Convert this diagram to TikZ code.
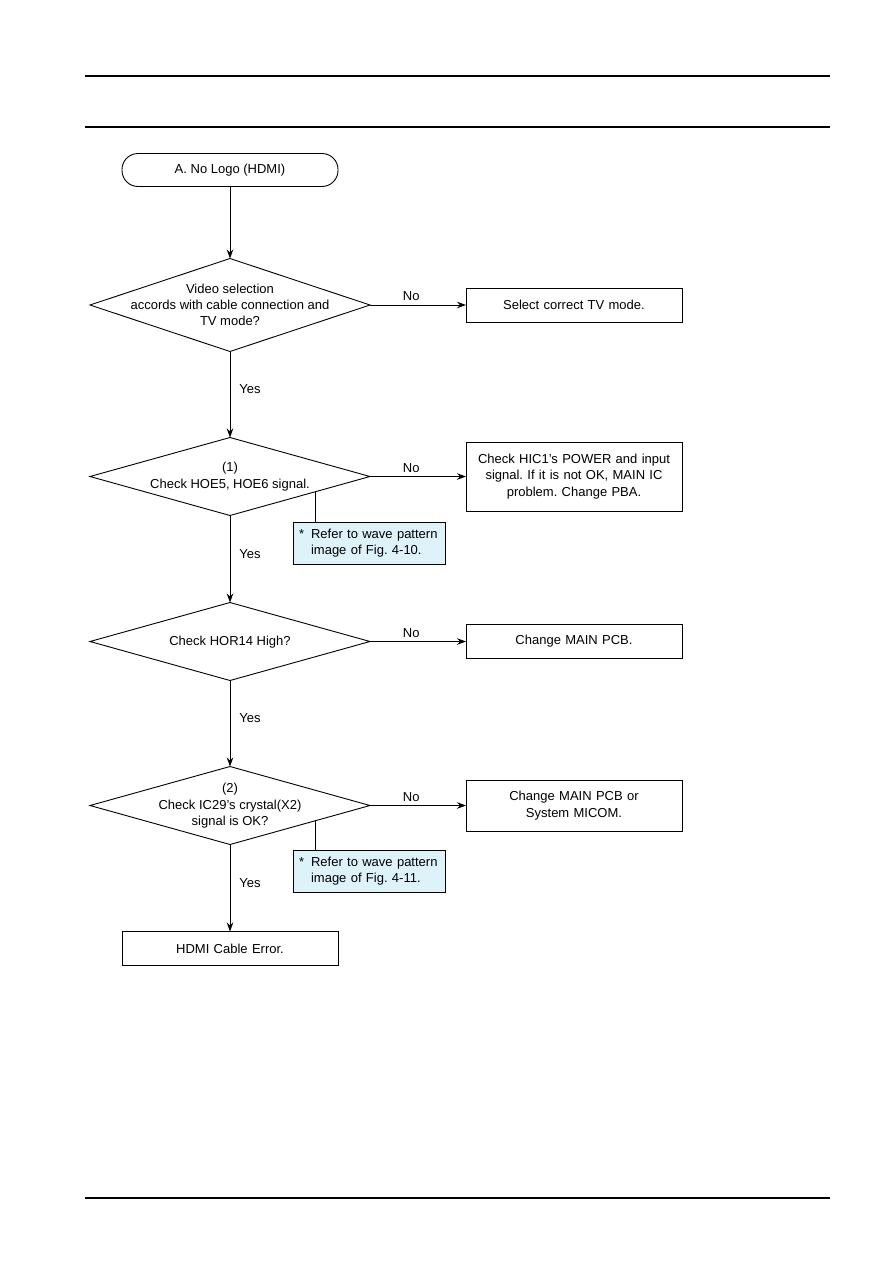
\documentclass[tikz,border=0pt]{standalone}
\usepackage{fontspec}
\setmainfont{Liberation Sans}
\usetikzlibrary{positioning,arrows.meta,calc,shapes.geometric}
\definecolor{NoteBlue}{HTML}{DDF2F9}
\newcommand{\dtext}[1]{\smash{\makebox[0pt]{\raisebox{-.25em}{\begin{tabular}{@{}c@{}}#1\end{tabular}}}}}
\frenchspacing

\begin{document}
\begin{tikzpicture}[
  font=\fontsize{13}{16.3}\selectfont,
  node distance=86pt and 96pt,
  every node/.style={outer sep=0pt},
  term/.style={draw, line width=0.9pt, rounded corners=16pt, minimum width=216pt, minimum height=33pt, inner sep=0pt},
  decision/.style={diamond, draw, line width=0.9pt, minimum width=280pt, minimum height=78pt, inner sep=0pt},
  act/.style={draw, line width=0.9pt, text width=210pt, inner xsep=3pt, align=center, minimum height=34pt},
  note/.style={draw, line width=0.9pt, fill=NoteBlue, text width=140pt, inner xsep=6pt, minimum height=42pt, anchor=north west},
  arrow/.style={-{Stealth[length=9pt,width=6.5pt]}, line width=0.9pt},
  link/.style={line width=0.9pt},
  rule/.style={line width=1.6pt}
]
\useasboundingbox (0,0) rectangle (893pt,-1263pt);
\draw[rule] (85pt,-76pt) -- (830pt,-76pt);
\draw[rule] (85pt,-127pt) -- (830pt,-127pt);
\draw[rule] (85pt,-1198pt) -- (830pt,-1198pt);

\node[term] (start) at (230pt,-170pt) {A. No Logo (HDMI)};
\node[decision, minimum height=93pt, below=72pt of start] (d1) {\raisebox{-2pt}{\dtext{Video selection\\accords with cable connection and\\TV mode?}}};
\node[act, right=of d1] (b1) {Select correct TV mode.};
\node[decision, below=of d1] (d2) {\dtext{(1)\\Check HOE5, HOE6 signal.}};
\node[act, right=of d2, minimum height=69pt] (b2) {Check HIC1's POWER and input\\signal. If it is not OK, MAIN IC\\problem. Change PBA.};
\node[note] (n1) at ($(d2.south)+(63pt,-7pt)$) {\begin{tabular}{@{}l@{\hspace{7pt}}l@{}}* & Refer to wave pattern\\ & image of Fig. 4-10.\end{tabular}};
\node[decision, below=87pt of d2] (d3) {\dtext{Check HOR14 High?}};
\node[act, right=of d3] (b3) {Change MAIN PCB.};
\node[decision, below=of d3] (d4) {\dtext{(2)\\Check IC29's crystal(X2)\\signal is OK?}};
\node[act, right=of d4, minimum height=51pt] (b4) {Change MAIN PCB or\\System MICOM.};
\node[note] (n2) at ($(d4.south)+(63pt,-6pt)$) {\begin{tabular}{@{}l@{\hspace{7pt}}l@{}}* & Refer to wave pattern\\ & image of Fig. 4-11.\end{tabular}};
\node[act, below=87pt of d4] (end) {HDMI Cable Error.};

% flow
\draw[arrow] (start) -- (d1);
\draw[arrow] (d1) -- node[pos=0.43, above=1pt] {No} (b1);
\draw[arrow] (d1) -- node[pos=0.44, right=6pt] {Yes} (d2);
\draw[arrow] (d2) -- node[pos=0.43, above=1pt] {No} (b2);
\draw[arrow] (d2) -- node[pos=0.44, right=6pt] {Yes} (d3);
\draw[arrow] (d3) -- node[pos=0.43, above=1pt] {No} (b3);
\draw[arrow] (d3) -- node[pos=0.44, right=6pt] {Yes} (d4);
\draw[arrow] (d4) -- node[pos=0.43, above=1pt] {No} (b4);
\draw[arrow] (d4) -- node[pos=0.44, right=6pt] {Yes} (end);

% notes
\coordinate (c1) at ($(d2.south)!0.607!(d2.east)$);
\coordinate (c2) at ($(d4.south)!0.607!(d4.east)$);
\draw[link] (c1) -- (c1 |- n1.north);
\draw[link] (c2) -- (c2 |- n2.north);
\end{tikzpicture}
\end{document}
